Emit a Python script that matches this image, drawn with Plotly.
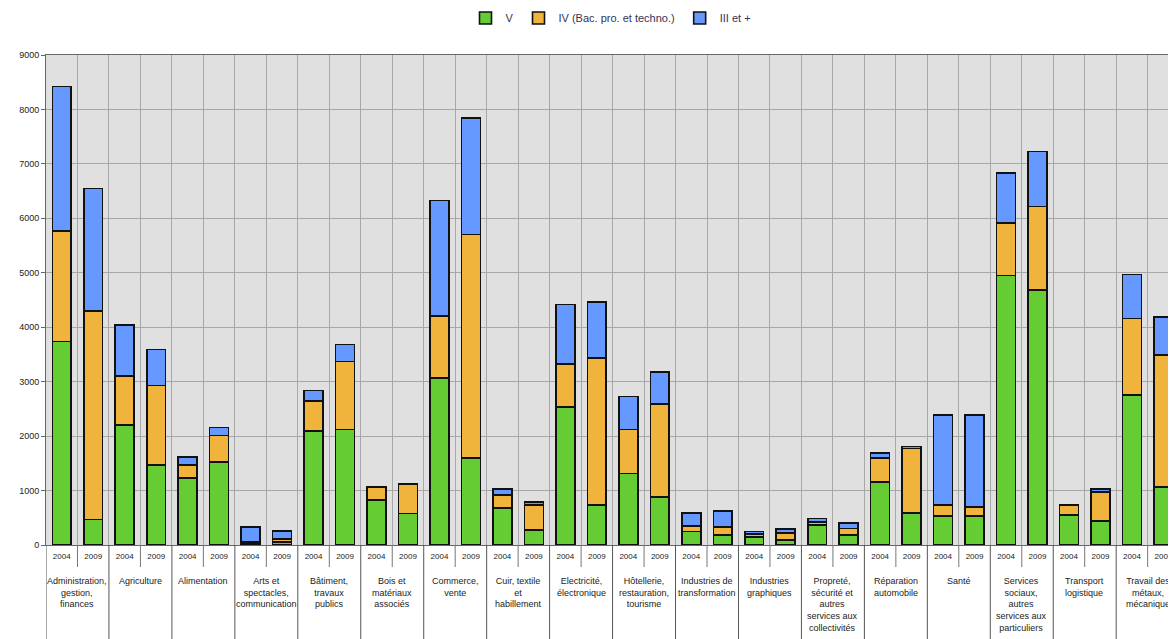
import plotly.graph_objects as go

categories = [
    "Administration,<br>gestion,<br>finances",
    "Agriculture",
    "Alimentation",
    "Arts et<br>spectacles,<br>communication",
    "Bâtiment,<br>travaux<br>publics",
    "Bois et<br>matériaux<br>associés",
    "Commerce,<br>vente",
    "Cuir, textile<br>et<br>habillement",
    "Electricité,<br>électronique",
    "Hôtellerie,<br>restauration,<br>tourisme",
    "Industries de<br>transformation",
    "Industries<br>graphiques",
    "Propreté,<br>sécurité et<br>autres<br>services aux<br>collectivités",
    "Réparation<br>automobile",
    "Santé",
    "Services<br>sociaux,<br>autres<br>services aux<br>particuliers",
    "Transport<br>logistique",
    "Travail des<br>métaux,<br>mécanique",
]
years = ["2004", "2009"]

# values per category, 2004 then 2009
v_2004 = [3740, 2200, 1230, 30, 2090, 830, 3070, 680, 2540, 1310, 245, 150, 370, 1160, 530, 4950, 550, 2750]
v_2009 = [470, 1470, 1530, 60, 2120, 580, 1600, 280, 740, 880, 185, 90, 185, 590, 530, 4680, 440, 1060]
iv_2004 = [2030, 900, 240, 30, 550, 230, 1140, 240, 790, 810, 105, 50, 50, 440, 200, 960, 185, 1410]
iv_2009 = [3830, 1460, 480, 45, 1250, 540, 4100, 450, 2690, 1710, 150, 135, 120, 1180, 170, 1540, 530, 2430]
iii_2004 = [2650, 940, 150, 270, 200, 10, 2120, 110, 1090, 610, 235, 50, 70, 90, 1660, 920, 10, 810]
iii_2009 = [2250, 660, 150, 150, 310, 10, 2140, 60, 1030, 590, 290, 65, 100, 40, 1690, 1010, 55, 700]

series_names = ["V", "IV (Bac. pro. et techno.)", "III et +"]
series_colors = ["#66CC33", "#F0B43C", "#6699FF"]

def interleave(a, b):
    out = []
    for x, y in zip(a, b):
        out += [x, y]
    return out

n_cat = len(categories)
n_year = len(years)
positions = list(range(n_cat * n_year))
year_labels = [y for _ in categories for y in years]

series_values = [
    interleave(v_2004, v_2009),
    interleave(iv_2004, iv_2009),
    interleave(iii_2004, iii_2009),
]

# page body adds an 8px offset; figure sized to fill the rest of the window
W, H = 1168, 631
ML, MR, MT, MB = 38, 0, 47, 94
plot_h = H - MT - MB

fig = go.Figure()
for name, color, vals in zip(series_names, series_colors, series_values):
    fig.add_trace(go.Bar(
        x=positions, y=vals, name=name, width=0.6,
        marker=dict(color=color, line=dict(color="#111111", width=1.6)),
    ))

boundaries = [p - 0.5 for p in positions] + [positions[-1] + 0.5]
label_font = "Liberation Sans, Arial, sans-serif"

# category labels below the year labels
for i, c in enumerate(categories):
    fig.add_annotation(
        x=i * n_year + (n_year - 1) / 2, xref="x",
        y=-29 / plot_h, yref="paper", yanchor="top", xanchor="center",
        text=c, showarrow=False, align="center",
        font=dict(size=9, family=label_font, color="#222222"),
    )

# dividers between categories (full height) and between years (short)
bottom = -(MB + 5) / plot_h
for b_i, b in enumerate(boundaries):
    if b_i % n_year == 0:
        y1 = bottom
        col = "#555555"
    else:
        y1 = -22 / plot_h
        col = "#777777"
    fig.add_shape(type="line", xref="x", yref="paper", x0=b, x1=b, y0=0, y1=y1,
                  line=dict(color=col, width=1))

fig.update_layout(
    width=W, height=H,
    barmode="stack",
    paper_bgcolor="white", plot_bgcolor="#E0E0E0",
    margin=dict(l=ML, r=MR, t=MT, b=MB, autoexpand=False),
    font=dict(family=label_font, color="#222222"),
    legend=dict(orientation="h", x=0.5, xanchor="center", y=(plot_h + MT - 10) / plot_h,
                yanchor="middle", font=dict(size=11, color="#333355"), itemwidth=30,
                traceorder="normal", bgcolor="rgba(0,0,0,0)"),
    showlegend=True,
)
fig.update_xaxes(
    range=[-0.5, 35.4], tickmode="array", tickvals=positions, ticktext=year_labels,
    tickfont=dict(size=8, color="#222222"), ticks="", showgrid=False, zeroline=False,
    minor=dict(tickmode="array", tickvals=boundaries, showgrid=True,
               gridcolor="#A8A8A8", gridwidth=1, ticks=""),
    showline=True, linecolor="#666666", linewidth=1, mirror=True,
    ticklabelstandoff=3, automargin=False,
)
fig.update_yaxes(
    range=[0, 9000], dtick=1000, showgrid=True, gridcolor="#A8A8A8", gridwidth=1,
    tickfont=dict(size=9, color="#222222"), ticks="outside", ticklen=4,
    tickcolor="#666666", showline=True, linecolor="#666666", linewidth=1, mirror=True,
    zeroline=False, automargin=False,
)

fig.write_html("out.html")
